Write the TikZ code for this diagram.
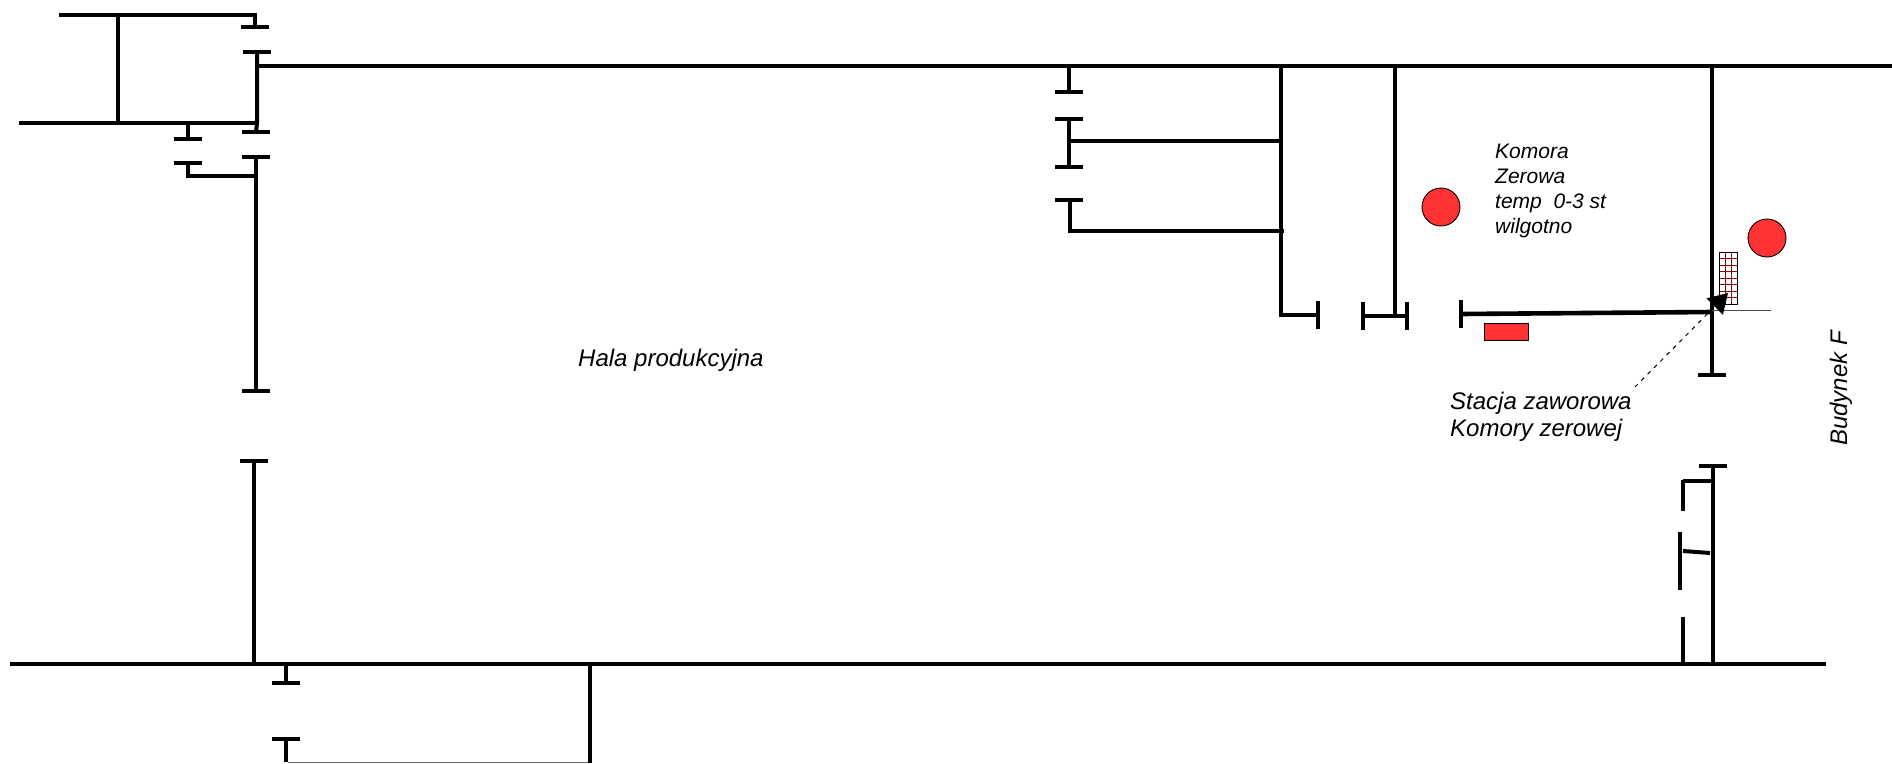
\documentclass[tikz,border=0pt]{standalone}
\usepackage{fontspec}
\setmainfont{Liberation Sans}
\usetikzlibrary{arrows.meta}

\begin{document}
\begin{tikzpicture}[x=1pt,y=-1pt]
    \tikzset{
        wall/.style={draw,line width=4pt,line cap=butt,line join=miter},
        thin wall/.style={draw,line width=3.6pt},
        heater/.style={draw=black,line width=0.9pt,fill=heatred},
        label/.style={inner sep=0pt,anchor=base west,font=\itshape\fontsize{24}{26.5}\selectfont,align=left},
        small label/.style={label,font=\itshape\fontsize{21}{24.7}\selectfont}}
    \definecolor{heatred}{HTML}{FF3333}
    \definecolor{gridred}{HTML}{8B0000}
    \useasboundingbox (0,0) rectangle (1892,763);

    \draw[wall] (59,15) -- (255,15) -- (255,27);
    \draw[wall] (118,15) -- (118,123);
    \draw[wall] (19,123) -- (257,123);
    \draw[wall] (257,52) -- (257,123) -- (256,132);
    \draw[wall] (257,66) -- (1892,66);
    \draw[wall] (188,123) -- (188,139);
    \draw[wall] (188,163) -- (188,176) -- (256,176);
    \draw[wall] (256,157) -- (256,391);
    \draw[thin wall] (254,461) -- (254,664);
    \draw[wall] (10,664) -- (1826,664);
    \draw[wall] (286,664) -- (286,683);
    \draw[wall] (286,739) -- (286,762);
    \draw[draw=black!60,line width=1pt] (288,762) -- (590,762);
    \draw[wall] (590,664) -- (590,763);

    \draw[wall] (1069,65) -- (1069,92);
    \draw[wall] (1069,119) -- (1069,167);
    \draw[wall] (1069,141) -- (1281,141);
    \draw[wall] (1070,200) -- (1070,231) -- (1284,231);
    \draw[wall] (1281,65) -- (1281,315) -- (1318,315);
    \draw[wall] (1395,65) -- (1395,316);
    \draw[wall] (1363,316) -- (1407,316);
    \draw[wall,line width=4.6pt] (1461,314) -- (1712,312);
    \draw[wall] (1712,65) -- (1712,375);
    \draw[draw=black!70,line width=1pt] (1712,310) -- (1771,310);

    \foreach \x/\y in {255/27,257/52,256/132,256/157,188/139,188/163,256/391,254/461,286/683,286/739,
            1069/92,1069/119,1069/167,1069/200,1712/375,1713/466}
        \draw[thin wall] (\x-14,\y) -- (\x+14,\y);
    \foreach \x/\y in {1318/315,1363/316,1407/316,1461/314}
        \draw[thin wall] (\x,\y-14) -- (\x,\y+14);

    \draw[wall] (1713,466) -- (1713,664);
    \draw[wall] (1683,481) -- (1713,481);
    \draw[thin wall] (1683,480) -- (1683,511);
    \draw[thin wall] (1680,532) -- (1680,590);
    \draw[wall] (1683,551) -- (1710,553);
    \draw[thin wall] (1683,617) -- (1683,664);

    \node[heater,circle,minimum size=38pt,inner sep=0pt] (circle1) at (1441,207) {};
    \node[heater,circle,minimum size=38pt,inner sep=0pt] (circle2) at (1767,238) {};
    \node[heater,minimum width=44pt,minimum height=17pt,inner sep=0pt] (rect1) at (1506,331.5) {};

    \foreach \x in {1725,1731}
        \draw[gridred,line width=0.8pt] (\x,252) -- (\x,304);
    \foreach \y in {258.5,265,271.5,278,284.5,291,297.5}
        \draw[gridred,line width=0.8pt] (1719,\y) -- (1737,\y);
    \draw[black,line width=0.8pt] (1719,252) rectangle (1737,304);

    \node[label] (hala) at (578,366) {Hala produkcyjna};
    \node[small label] (komora) at (1495,233) {Komora\\Zerowa\\temp~~0-3 st\\wilgotno};
    \node[label] (stacja) at (1450,436) {Stacja zaworowa\\Komory zerowej};
    \node[label,rotate=90] (budynek) at (1847,446) {Budynek F};

    \coordinate (arrowstart) at (1635,387);
    \coordinate (arrowend) at (1728,293);
    \draw[black,line width=1pt,dash pattern=on 4pt off 5pt,-{Triangle[length=19pt,width=23pt]}] (arrowstart) -- (arrowend);
\end{tikzpicture}
\end{document}
